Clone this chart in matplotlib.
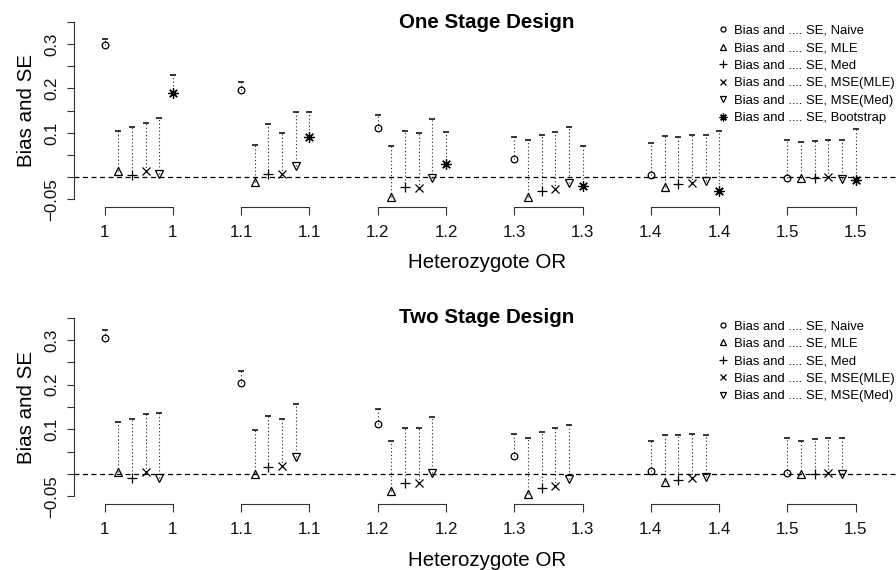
import numpy as np
import matplotlib
matplotlib.use("Agg")
import matplotlib.pyplot as plt
import matplotlib.transforms as mtransforms

plt.rcParams['font.family'] = ['Liberation Sans', 'DejaVu Sans']

or_labels = ['1', '1.1', '1.2', '1.3', '1.4', '1.5']
methods = ['Naive', 'MLE', 'Med', 'MSE(MLE)', 'MSE(Med)', 'Bootstrap']

# rows = method, columns = heterozygote OR
one_bias = [
    [0.298, 0.196, 0.110, 0.041, 0.006, -0.001],
    [0.013, -0.010, -0.044, -0.045, -0.021, -0.002],
    [0.004, 0.008, -0.023, -0.030, -0.015, -0.002],
    [0.013, 0.008, -0.025, -0.026, -0.012, 0.000],
    [0.008, 0.026, -0.002, -0.012, -0.008, -0.004],
    [0.189, 0.091, 0.030, -0.020, -0.032, -0.006],
]
one_se = [
    [0.310, 0.215, 0.139, 0.091, 0.078, 0.084],
    [0.103, 0.073, 0.071, 0.083, 0.093, 0.080],
    [0.114, 0.119, 0.104, 0.096, 0.091, 0.081],
    [0.122, 0.099, 0.099, 0.102, 0.096, 0.083],
    [0.134, 0.146, 0.131, 0.112, 0.095, 0.083],
    [0.230, 0.146, 0.101, 0.071, 0.104, 0.109],
]
two_bias = [
    [0.304, 0.203, 0.112, 0.041, 0.007, 0.002],
    [0.005, -0.001, -0.038, -0.045, -0.017, 0.000],
    [-0.008, 0.016, -0.019, -0.032, -0.013, 0.000],
    [0.004, 0.018, -0.019, -0.026, -0.008, 0.002],
    [-0.008, 0.037, 0.003, -0.012, -0.006, 0.000],
]
two_se = [
    [0.322, 0.231, 0.145, 0.090, 0.075, 0.081],
    [0.117, 0.098, 0.074, 0.080, 0.087, 0.075],
    [0.123, 0.130, 0.102, 0.093, 0.087, 0.078],
    [0.134, 0.123, 0.104, 0.102, 0.090, 0.081],
    [0.137, 0.157, 0.128, 0.110, 0.088, 0.081],
]

yticks = [-0.05, 0.0, 0.05, 0.1, 0.15, 0.2, 0.25, 0.3, 0.35]
ytick_labels = ['\u22120.05', '', '', '0.1', '', '0.2', '', '0.3', '']

W, H = 896, 570
LINE = '#333333'

styles = [
    dict(marker='o', ms=4.8, mfc='none'),
    dict(marker='^', ms=5.6, mfc='none'),
    dict(marker='+', ms=7.5),
    dict(marker='x', ms=5.8),
    dict(marker='v', ms=5.6, mfc='none'),
    dict(marker=(8, 2, 0), ms=7.5),
]


def draw_panel(ax_top, ax_bot, title, bias, se, title_base, xlab_base, leg_top):
    ax = fig.add_axes([74 / W, 1 - ax_bot / H, (900 - 74) / W, (ax_bot - ax_top) / H])
    hpx = ax_bot - ax_top

    def yfrac(py):
        return (ax_bot - py) / hpx

    groups = np.arange(len(or_labels))
    for m in range(len(bias)):
        x = 10 * groups + m
        ax.vlines(x, bias[m], se[m], colors='#222222', linewidth=0.8,
                  linestyles=(0, (1, 2.2)))
        ax.plot(x, se[m], ls='none', marker='_', ms=4, mew=1.1, color='k')
        ax.plot(x, bias[m], ls='none', color='k', mew=0.9,
                label='Bias and .... SE, ' + methods[m], **styles[m])

    ax.axhline(0, color='k', lw=0.9, ls=(0, (4, 2.8)))

    ax.set_xlim(-2.24, 58.24)
    ax.set_ylim(-0.066, 0.366)

    # bracket axis for each OR group
    trans = mtransforms.blended_transform_factory(ax.transData, ax.transAxes)
    xt, xl = [], []
    for g in groups:
        ax.plot([10 * g, 10 * g + 5], [0, 0], transform=trans, clip_on=False,
                color=LINE, lw=0.8)
        xt += [10 * g, 10 * g + 5]
        xl += [or_labels[g], or_labels[g]]
    ax.set_xticks(xt)
    ax.set_xticklabels(xl)
    ax.set_yticks(yticks)
    ax.set_yticklabels(ytick_labels, rotation=90, va='center')

    for s in ['top', 'right', 'bottom']:
        ax.spines[s].set_visible(False)
    ax.spines['left'].set_bounds(-0.05, 0.35)
    ax.spines['left'].set_color(LINE)
    ax.spines['left'].set_linewidth(0.8)
    ax.tick_params(axis='both', length=5.4, width=0.8, color=LINE,
                   labelsize=12.2, labelcolor='#111111')
    ax.tick_params(axis='x', pad=8.0)
    ax.tick_params(axis='y', pad=5.0)

    ax.set_ylabel('Bias and SE', fontsize=14.8, va='center')
    ax.yaxis.set_label_coords((27 - 74) / 826, 0.5)
    ax.set_xlabel('Heterozygote OR', fontsize=14.8, va='baseline')
    ax.xaxis.set_label_coords(0.5, yfrac(xlab_base))

    ax.text(0.5, yfrac(title_base), title, transform=ax.transAxes,
            ha='center', va='baseline', fontsize=14.8, fontweight='bold')

    ax.legend(loc='upper left', bbox_to_anchor=(717.5 / W, 1 - leg_top / H),
              bbox_transform=fig.transFigure, frameon=False, fontsize=9.4,
              handlelength=0.8, handletextpad=0.5, borderpad=0,
              borderaxespad=0, labelspacing=0.41, markerscale=0.75)
    return ax


fig = plt.figure(figsize=(W / 100, H / 100), dpi=100)
draw_panel(14.6, 206.6, 'One Stage Design', one_bias, one_se, 27.5, 268.3, 24.5)
draw_panel(310.5, 503.5, 'Two Stage Design', two_bias, two_se, 323.3, 566.0, 320)

fig.savefig('out.png', dpi=100)
